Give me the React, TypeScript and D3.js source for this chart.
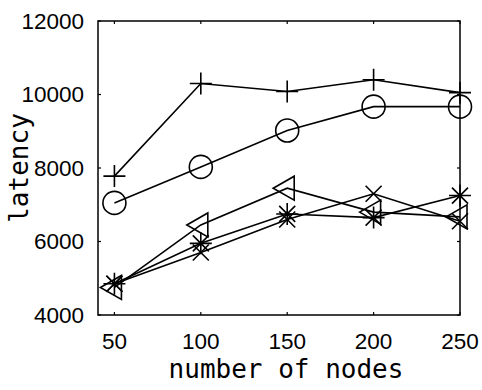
import * as d3 from 'd3';

const nodes = [50, 100, 150, 200, 250];
const plusSeries = [7780, 10300, 10080, 10400, 10050];
const circleSeries = [7050, 8030, 9020, 9670, 9670];
const triSeries = [4750, 6450, 7450, 6800, 6670];
const crossSeries = [4850, 5700, 6600, 7300, 6550];
const starSeries = [4850, 5950, 6750, 6650, 7250];
const xTicks = [50, 100, 150, 200, 250];
const yTicks = [4000, 6000, 8000, 10000, 12000];

const W = 482;
const H = 390;
const margin = { top: 21, right: 22, bottom: 75, left: 98 };

type Shape = 'plus' | 'circle' | 'tri' | 'cross' | 'star';

const seriesList: { name: Shape; values: number[] }[] = [
  { name: 'plus', values: plusSeries },
  { name: 'circle', values: circleSeries },
  { name: 'tri', values: triSeries },
  { name: 'cross', values: crossSeries },
  { name: 'star', values: starSeries },
];

function markerPath(shape: Shape, cx: number, cy: number): string {
  const p = d3.path();
  if (shape === 'plus') {
    p.moveTo(cx - 11, cy);
    p.lineTo(cx + 11, cy);
    p.moveTo(cx, cy - 11);
    p.lineTo(cx, cy + 11);
  } else if (shape === 'circle') {
    p.moveTo(cx + 11.5, cy);
    p.arc(cx, cy, 11.5, 0, Math.PI * 2);
  } else if (shape === 'tri') {
    p.moveTo(cx - 14, cy);
    p.lineTo(cx + 7, cy - 12);
    p.lineTo(cx + 7, cy + 12);
    p.closePath();
  } else if (shape === 'cross') {
    p.moveTo(cx - 8, cy - 8);
    p.lineTo(cx + 8, cy + 8);
    p.moveTo(cx - 8, cy + 8);
    p.lineTo(cx + 8, cy - 8);
  } else {
    p.moveTo(cx - 11, cy);
    p.lineTo(cx + 11, cy);
    p.moveTo(cx, cy - 11);
    p.lineTo(cx, cy + 11);
    p.moveTo(cx - 8, cy - 8);
    p.lineTo(cx + 8, cy + 8);
    p.moveTo(cx - 8, cy + 8);
    p.lineTo(cx + 8, cy - 8);
  }
  return p.toString();
}

export default function App() {
  const x = d3.scaleLinear().domain([40.5, 250]).range([margin.left, W - margin.right]);
  const y = d3.scaleLinear().domain([4000, 12000]).range([H - margin.bottom, margin.top]);
  const line = d3
    .line<number>()
    .x((_, i) => x(nodes[i]))
    .y((d) => y(d));

  const x0 = margin.left;
  const x1 = W - margin.right;
  const y0 = H - margin.bottom;
  const y1 = margin.top;
  const tickLen = 3;

  return (
    <svg
      width={W}
      height={H}
      style={{ position: 'absolute', left: 0, top: 0, background: '#fff' }}
    >
      {/* ticks on all four sides */}
      <g stroke="#000" strokeWidth={1.2}>
        {xTicks.map((t) => (
          <g key={'xt' + t}>
            <line x1={x(t)} x2={x(t)} y1={y0} y2={y0 - tickLen} />
            <line x1={x(t)} x2={x(t)} y1={y1} y2={y1 + tickLen} />
          </g>
        ))}
        {yTicks.map((t) => (
          <g key={'yt' + t}>
            <line x1={x0} x2={x0 + tickLen} y1={y(t)} y2={y(t)} />
            <line x1={x1} x2={x1 - tickLen} y1={y(t)} y2={y(t)} />
          </g>
        ))}
      </g>
      <rect x={x0} y={y1} width={x1 - x0} height={y0 - y1} fill="none" stroke="#000" strokeWidth={1.5} />

      {/* tick labels */}
      <g fontFamily="'Liberation Sans', Arial, sans-serif" fontSize={22.5} fill="#000">
        {xTicks.map((t) => (
          <text key={'xl' + t} x={x(t)} y={349} textAnchor="middle">
            {t}
          </text>
        ))}
        {yTicks.map((t) => (
          <text key={'yl' + t} x={84} y={y(t)} textAnchor="end" dominantBaseline="central">
            {t}
          </text>
        ))}
      </g>

      {/* axis labels */}
      <text
        x={(x0 + x1) / 2 + 7}
        y={378}
        textAnchor="middle"
        fontFamily="'DejaVu Sans Mono', monospace"
        fontSize={26}
        fill="#000"
      >
        number of nodes
      </text>
      <text
        transform={`translate(28,${(y0 + y1) / 2}) rotate(-90)`}
        textAnchor="middle"
        fontFamily="'DejaVu Sans Mono', monospace"
        fontSize={26}
        fill="#000"
      >
        latency
      </text>

      {/* series */}
      {seriesList.map((s) => (
        <g key={s.name} fill="none" stroke="#000" strokeWidth={1.6}>
          <path d={line(s.values) ?? ''} />
          {s.values.map((v, i) => (
            <path key={i} d={markerPath(s.name, x(nodes[i]), y(v))} />
          ))}
        </g>
      ))}
    </svg>
  );
}
